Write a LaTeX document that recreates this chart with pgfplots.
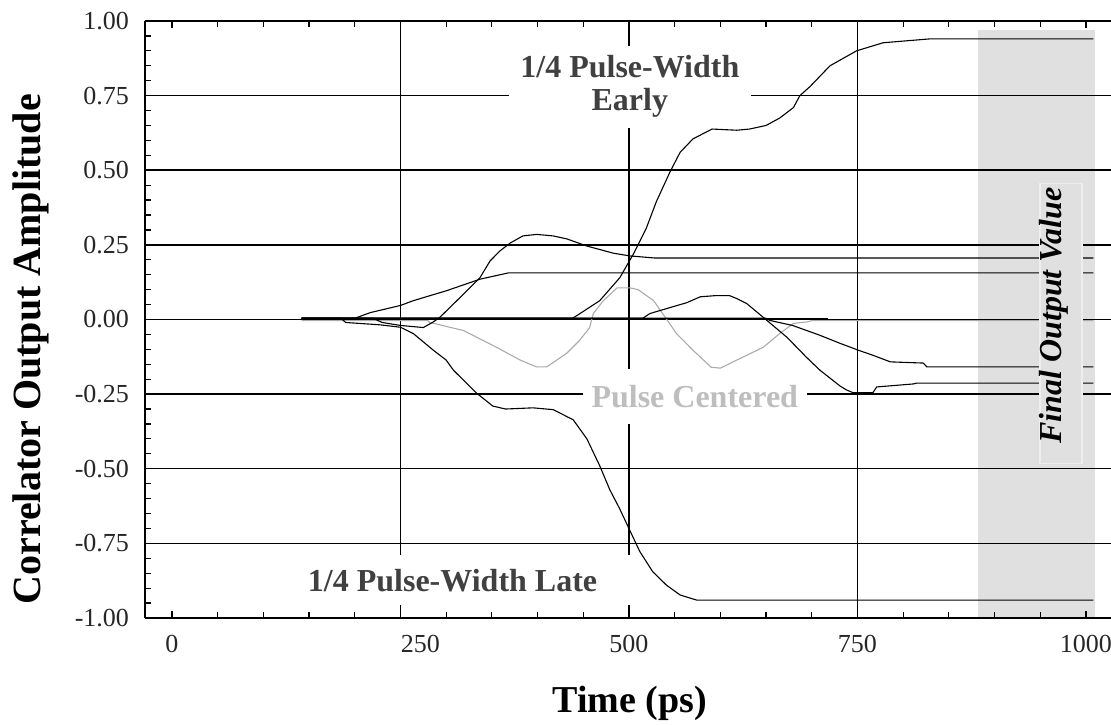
\documentclass[border=0pt]{standalone}
\usepackage{fontspec}
\setmainfont{Liberation Serif}
\usepackage{pgfplots}
\pgfplotsset{compat=1.18}
\definecolor{band}{HTML}{E0E0E0}
\definecolor{boxedge}{HTML}{EEEEEE}
\definecolor{labgray}{HTML}{404040}
\definecolor{centgray}{HTML}{BEBEBE}
\definecolor{curvegray}{HTML}{ABABAB}
\begin{document}
\begin{tikzpicture}
\begin{axis}[
  name=ax,
  set layers,
  scale only axis,
  width=483pt, height=298.5pt,
  xmin=-29.5, xmax=1027.4,
  ymin=-1, ymax=1,
  axis x line*=box,
  axis y line*=left,
  axis line style={line width=0.8pt, black},
  xtick={0,250,500,750,1000},
  xticklabels={0,\hspace*{20pt}250,500,750,1000},
  minor x tick num=4,
  ytick={-1,-0.75,-0.5,-0.25,0,0.25,0.5,0.75,1},
  yticklabels={-1.00,-0.75,-0.50,-0.25,0.00,0.25,0.50,0.75,1.00},
  minor y tick num=4,
  tick align=inside,
  major tick length=3.5pt,
  minor tick length=3pt,
  every tick/.style={black, line width=0.6pt},
  xmajorgrids=false,
  ymajorgrids=true,
  extra x ticks={250,500,750},
  extra x tick labels={},
  extra x tick style={xmajorgrids=true},
  major grid style={black, line width=0.75pt},
  yticklabel style={font=\fontsize{13}{15}\selectfont, text=black!85, xshift=-4.5pt},
  xticklabel style={font=\fontsize{13}{15}\selectfont, text=black!85, yshift=-5pt},
  xlabel={Time (ps)},
  ylabel={Correlator Output Amplitude},
  x label style={at={(axis description cs:0.502,-0.1424)}, anchor=center, font=\bfseries\fontsize{19}{22}\selectfont},
  y label style={at={(axis description cs:-0.118,0.45)}, anchor=center, font=\bfseries\fontsize{20}{23}\selectfont},
]
% shaded final-value band
\addplot[fill=band, draw=none, on layer=axis background, forget plot]
  coordinates {(882,-1) (1010,-1) (1010,0.97) (882,0.97)};

% pulse centered (gray)
\addplot[curvegray, line width=0.55pt, forget plot] coordinates {
(142,-0.004) (280,-0.004) (282,-0.01) (319,-0.037) (355,-0.093) (381,-0.136)
(399,-0.159) (410,-0.159) (432,-0.113) (446,-0.07) (457,-0.027) (461,0.02)
(472,0.063) (487,0.106) (501,0.106) (510,0.10) (527,0.063) (552,-0.047)
(570,-0.103) (590,-0.16) (600,-0.163) (618,-0.136) (647,-0.093) (665,-0.047)
(680,-0.013) (695,-0.008) (700,-0.004) (1008,-0.004)};

% zero reference line ending at 718
\addplot[black, line width=0.55pt, forget plot] coordinates {(142,0.004) (718,0.004)};

% 1/4 pulse-width early
\addplot[black, line width=0.55pt, forget plot] coordinates {
(142,0.004) (438,0.004) (443,0.013) (468,0.063) (490,0.14) (505,0.22) (519,0.306)
(530,0.395) (545,0.495) (556,0.56) (570,0.605) (591,0.638) (618,0.634) (632,0.638)
(650,0.65) (665,0.675) (680,0.71) (687,0.75) (698,0.78) (720,0.85) (749,0.90)
(778,0.927) (829,0.94) (1008,0.94)};

% 1/4 pulse-width late
\addplot[black, line width=0.55pt, forget plot] coordinates {
(142,0.004) (185,0.004) (190,-0.010) (228,-0.018) (250,-0.026) (264,-0.047)
(286,-0.103) (300,-0.136) (308,-0.17) (333,-0.246) (351,-0.29) (365,-0.30)
(395,-0.296) (417,-0.302) (439,-0.336) (454,-0.40) (468,-0.49) (479,-0.57)
(490,-0.635) (501,-0.707) (512,-0.778) (526,-0.845) (541,-0.89) (556,-0.923)
(574,-0.94) (1008,-0.94)};

% gradual rise to 0.156
\addplot[black, line width=0.55pt, forget plot] coordinates {
(142,0.004) (200,0.004) (217,0.023) (250,0.047) (264,0.063) (300,0.096)
(337,0.135) (368,0.156) (1008,0.156)};

% bump to 0.285 then 0.206
\addplot[black, line width=0.55pt, forget plot] coordinates {
(142,0.004) (220,0.004) (230,-0.01) (250,-0.02) (275,-0.027) (285,-0.01)
(293,0.007) (315,0.073) (337,0.14) (348,0.196) (359,0.23) (370,0.256)
(384,0.28) (399,0.285) (417,0.28) (432,0.27) (454,0.246) (483,0.222)
(501,0.213) (528,0.206) (1008,0.206)};

% gentle decline to -0.159
\addplot[black, line width=0.55pt, forget plot] coordinates {
(142,0.004) (650,0.004) (654,-0.003) (679,-0.02) (709,-0.053) (731,-0.08)
(745,-0.096) (751,-0.103) (767,-0.12) (786,-0.142) (822,-0.146) (826,-0.159)
(1008,-0.159)};

% small bump then dip to -0.245, final -0.213
\addplot[black, line width=0.55pt, forget plot] coordinates {
(142,0.004) (515,0.004) (523,0.02) (545,0.04) (563,0.056) (578,0.076)
(595,0.08) (610,0.08) (618,0.07) (629,0.053) (647,0.007) (673,-0.06)
(694,-0.126) (709,-0.17) (731,-0.223) (738,-0.236) (745,-0.245) (767,-0.245)
(771,-0.226) (811,-0.216) (815,-0.213) (1008,-0.213)};

% labels
\node[fill=white, inner sep=0pt, minimum width=121pt, minimum height=41pt,
  align=center, text=labgray, font=\bfseries\fontsize{16}{16.5}\selectfont]
  at (axis cs:501,0.78) {1/4 Pulse-Width\\Early};
\node[fill=white, inner sep=0pt, minimum width=112pt, minimum height=27.5pt,
  text=centgray, font=\bfseries\fontsize{16}{16.5}\selectfont]
  at (axis cs:572,-0.258) {Pulse Centered};
\node[fill=white, inner sep=0pt, minimum width=180pt, minimum height=25pt,
  text=labgray, font=\bfseries\fontsize{16}{16.5}\selectfont]
  at (axis cs:307,-0.874) {1/4 Pulse-Width Late};
\node[fill=band, draw=boxedge, line width=0.8pt, inner sep=0pt,
  minimum width=21pt, minimum height=140pt] at (axis cs:973,-0.013) {};
\node[rotate=90, inner sep=0pt, font=\bfseries\itshape\fontsize{16}{16.5}\selectfont]
  at (axis cs:965,0.013) {Final Output Value};
\end{axis}
\pgfresetboundingbox
\path[use as bounding box] ([xshift=-72.5pt,yshift=-53.5pt]ax.south west) rectangle ([yshift=10.5pt]ax.north east);
\end{tikzpicture}
\end{document}
